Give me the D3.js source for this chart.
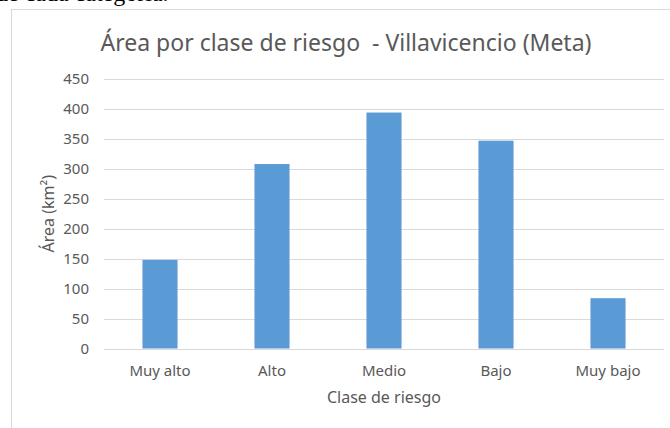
<!DOCTYPE html>
<html>
<head>
<meta charset="utf-8">
<script src="https://cdn.jsdelivr.net/npm/d3@7"></script>
<style>
  html, body { margin: 0; padding: 0; background: #fff; overflow: hidden; }
  svg { display: block; }
</style>
</head>
<body>
<script>
// data
const categories = ["Muy alto", "Alto", "Medio", "Bajo", "Muy bajo"];
const values = [148, 308, 394, 347, 84];
const yTicks = [0, 50, 100, 150, 200, 250, 300, 350, 400, 450];

const title = "Área por clase de riesgo  - Villavicencio (Meta)";
const yTitle = "Área (km²)";
const xTitle = "Clase de riesgo";
const pageText = "de cada categoría.";

const width = 670;
const height = 428;
const margin = { top: 79, right: 6, bottom: 79.5, left: 104 };
const font = "'Noto Sans', 'Open Sans', sans-serif";
const grey = "#595959";

const svg = d3.select("body").append("svg")
  .attr("width", width)
  .attr("height", height);

// bit of document text above the chart, cut off by the window
svg.append("text")
  .attr("x", -4)
  .attr("y", 1)
  .attr("font-family", "'Liberation Serif', 'DejaVu Serif', serif")
  .attr("font-size", 24)
  .attr("fill", "#000")
  .text(pageText);

// chart frame
svg.append("rect")
  .attr("x", 11.5)
  .attr("y", 9.5)
  .attr("width", 800)
  .attr("height", 600)
  .attr("fill", "#fff")
  .attr("stroke", "#d9d9d9");

const x = d3.scaleBand()
  .domain(categories)
  .range([margin.left, width - margin.right])
  .paddingInner(0.687)
  .paddingOuter(0.687 / 2);

const y = d3.scaleLinear()
  .domain([0, 450])
  .range([height - margin.bottom, margin.top]);

// gridlines
svg.append("g")
  .selectAll("line")
  .data(yTicks)
  .join("line")
  .attr("x1", margin.left)
  .attr("x2", width - margin.right)
  .attr("y1", d => Math.round(y(d)) + 0.5)
  .attr("y2", d => Math.round(y(d)) + 0.5)
  .attr("stroke", "#d9d9d9")
  .attr("stroke-width", 1);

// y labels
svg.append("g")
  .selectAll("text")
  .data(yTicks)
  .join("text")
  .attr("x", 89)
  .attr("y", d => y(d))
  .attr("dy", "0.36em")
  .attr("text-anchor", "end")
  .attr("font-family", font)
  .attr("font-size", 15)
  .attr("fill", grey)
  .text(d => d);

// bars
svg.append("g")
  .selectAll("rect")
  .data(values)
  .join("rect")
  .attr("x", (d, i) => x(categories[i]))
  .attr("width", x.bandwidth())
  .attr("y", d => y(d))
  .attr("height", d => y(0) - y(d))
  .attr("fill", "#5b9bd5");

// category labels
svg.append("g")
  .selectAll("text")
  .data(categories)
  .join("text")
  .attr("x", d => x(d) + x.bandwidth() / 2)
  .attr("y", 376)
  .attr("text-anchor", "middle")
  .attr("font-family", font)
  .attr("font-size", 15)
  .attr("fill", grey)
  .text(d => d);

// chart title
svg.append("text")
  .attr("x", 346)
  .attr("y", 51)
  .attr("text-anchor", "middle")
  .attr("font-family", font)
  .attr("font-size", 23)
  .attr("fill", grey)
  .style("white-space", "pre")
  .text(title);

// axis titles
svg.append("text")
  .attr("transform", `translate(54,${(y(0) + y(450)) / 2}) rotate(-90)`)
  .attr("text-anchor", "middle")
  .attr("font-family", font)
  .attr("font-size", 16)
  .attr("fill", grey)
  .text(yTitle);

svg.append("text")
  .attr("x", (margin.left + width - margin.right) / 2)
  .attr("y", 403)
  .attr("text-anchor", "middle")
  .attr("font-family", font)
  .attr("font-size", 16)
  .attr("fill", grey)
  .text(xTitle);
</script>
</body>
</html>
